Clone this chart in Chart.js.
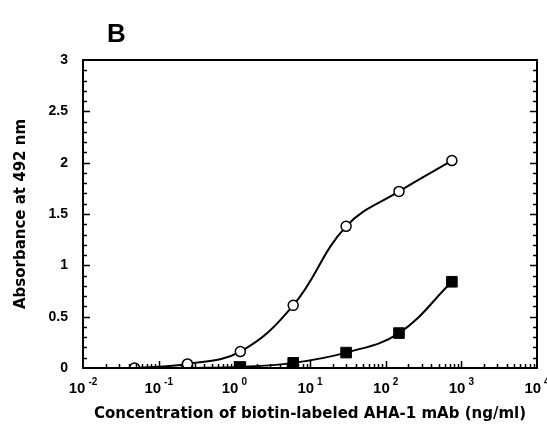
<!DOCTYPE html>
<html>
<head>
<meta charset="utf-8">
<script src="https://cdn.jsdelivr.net/npm/chart.js@4.4.1/dist/chart.umd.min.js"></script>
<style>
  html, body { margin: 0; padding: 0; background: #fff; }
  #wrap { width: 547px; height: 433px; }
</style>
</head>
<body>
<div id="wrap"><canvas id="grafico" width="547" height="433"></canvas></div>
<script>
// dados (diluições 1:5)
const concCirculos  = [0.048, 0.24, 1.2, 6, 30, 150, 750];
const absCirculos   = [0.00, 0.04, 0.16, 0.61, 1.38, 1.72, 2.02];
const concQuadrados = [0.24, 1.2, 6, 30, 150, 750];
const absQuadrados  = [0.00, 0.01, 0.05, 0.15, 0.34, 0.84];
const expoentesX    = [-2, -1, 0, 1, 2, 3, 4];
const ticksY        = [0, 0.5, 1, 1.5, 2, 2.5, 3];

const FONTE = '"Liberation Sans", Arial, sans-serif';
const FONTE_TIT = '"DejaVu Sans", Verdana, sans-serif';

// moldura, ticks internos e rótulos 10^n
const eixosPlugin = {
  id: 'eixos',
  afterDraw(chart) {
    const { ctx, chartArea: a, scales: { x, y } } = chart;
    ctx.save();
    ctx.strokeStyle = '#000';
    ctx.lineWidth = 2;
    ctx.strokeRect(a.left, a.top, a.right - a.left, a.bottom - a.top);

    ctx.lineWidth = 1.5;
    ctx.beginPath();
    // eixo y: menores a cada 0.1
    for (let i = 1; i < 30; i++) {
      const v = i / 10;
      const py = Math.round(y.getPixelForValue(v)) + 0.5;
      const len = (i % 5 === 0) ? 7 : 4;
      ctx.moveTo(a.left, py); ctx.lineTo(a.left + len, py);
      ctx.moveTo(a.right, py); ctx.lineTo(a.right - len, py);
    }
    // eixo x: log
    for (let e = -2; e < 4; e++) {
      for (let m = 1; m <= 9; m++) {
        if (e === -2 && m === 1) continue;
        const px = Math.round(x.getPixelForValue(m * Math.pow(10, e))) + 0.5;
        const len = m === 1 ? 7 : 4;
        ctx.moveTo(px, a.bottom); ctx.lineTo(px, a.bottom - len);
      }
    }
    ctx.stroke();

    // rótulos do eixo x
    ctx.fillStyle = '#000';
    ctx.textBaseline = 'alphabetic';
    expoentesX.forEach(e => {
      const px = x.getPixelForValue(Math.pow(10, e));
      ctx.font = 'bold 15px ' + FONTE;
      const wBase = ctx.measureText('10').width;
      const sup = String(e);
      ctx.font = 'bold 10px ' + FONTE;
      const wSup = ctx.measureText(sup).width;
      const x0 = px - (wBase + 3 + wSup) / 2;
      ctx.font = 'bold 15px ' + FONTE;
      ctx.textAlign = 'left';
      ctx.fillText('10', x0, 393);
      ctx.font = 'bold 10px ' + FONTE;
      ctx.fillText(sup, x0 + wBase + 3, 385);
    });

    // letra do painel
    ctx.font = 'bold 26px ' + FONTE;
    ctx.fillText('B', 107, 42);
    ctx.restore();
  }
};

new Chart(document.getElementById('grafico'), {
  type: 'line',
  data: {
    datasets: [
      {
        label: 'círculos',
        data: concCirculos.map((c, i) => ({ x: c, y: absCirculos[i] })),
        borderColor: '#000',
        borderWidth: 2,
        tension: 0.4,
        pointStyle: 'circle',
        pointRadius: 5,
        pointBorderWidth: 1.5,
        pointBackgroundColor: '#fff',
        pointBorderColor: '#000'
      },
      {
        label: 'quadrados',
        data: concQuadrados.map((c, i) => ({ x: c, y: absQuadrados[i] })),
        borderColor: '#000',
        borderWidth: 2,
        tension: 0.4,
        pointStyle: 'rect',
        pointRadius: 7.5,
        pointBorderWidth: 1,
        pointBackgroundColor: '#000',
        pointBorderColor: '#000'
      }
    ]
  },
  options: {
    responsive: false,
    animation: false,
    devicePixelRatio: 1,
    layout: { padding: { left: 8, top: 60, right: 10, bottom: 6 } },
    plugins: { legend: { display: false }, tooltip: { enabled: false } },
    scales: {
      x: {
        type: 'logarithmic',
        min: 0.01,
        max: 10000,
        grid: { display: false, drawTicks: false },
        border: { display: false },
        ticks: { display: false },
        title: {
          display: true,
          text: 'Concentration of biotin-labeled AHA-1 mAb (ng/ml)',
          color: '#000',
          font: { family: FONTE_TIT, size: 15, weight: 'bold' }
        },
        afterFit: s => { s.height = 59; }
      },
      y: {
        min: 0,
        max: 3,
        afterBuildTicks: s => { s.ticks = ticksY.map(v => ({ value: v })); },
        grid: { display: false, drawTicks: false },
        border: { display: false },
        ticks: {
          color: '#000',
          padding: 15,
          font: { family: FONTE, size: 14, weight: 'bold' },
          callback: v => String(v)
        },
        title: {
          display: true,
          text: 'Absorbance at 492 nm',
          color: '#000',
          font: { family: FONTE_TIT, size: 15, weight: 'bold' }
        },
        afterFit: s => { s.width = 75; }
      }
    }
  },
  plugins: [eixosPlugin]
});
</script>
</body>
</html>
